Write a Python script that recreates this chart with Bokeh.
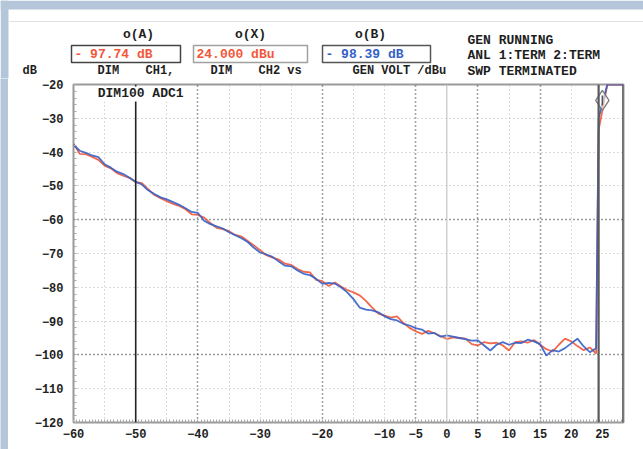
from bokeh.plotting import figure
from bokeh.layouts import column, row
from bokeh.models import Range1d, FixedTicker, Grid, Span, Label
from bokeh.core.properties import value
from bokeh.embed import file_html
from bokeh.resources import INLINE

# Generator sweep level (dBu) and the two measured channels (dB)
gen_level = list(range(-60, 25)) + [24.4, 25.8, 28.4]
ch1_db = [
    -37.5, -40.5, -40.6, -41.4, -42.3, -44.0, -44.8, -46.2, -47.0, -47.6,
    -48.9, -49.2, -51.0, -52.7, -53.6, -54.5, -55.3, -55.9, -56.9, -58.4,
    -58.6, -59.4, -61.0, -62.4, -62.8, -63.4, -64.5, -65.0, -66.3, -67.6,
    -69.0, -70.5, -71.2, -71.8, -73.0, -73.4, -74.6, -75.4, -75.6, -77.8,
    -78.2, -79.6, -78.6, -79.8, -80.8, -81.5, -82.4, -84.0, -86.0, -87.8,
    -88.4, -89.0, -88.6, -90.5, -92.0, -93.0, -93.8, -92.9, -93.6, -94.4,
    -95.3, -94.8, -95.0, -95.2, -96.8, -97.2, -96.2, -96.6, -96.4, -97.2,
    -98.7, -96.2, -96.0, -96.4, -95.6, -97.0, -98.3, -99.0, -97.0, -95.2,
    -96.0, -97.4, -98.6, -97.8, -99.6, -33.5, -20.0, -20.0,
]
ch2_db = [
    -37.8, -39.6, -40.2, -41.0, -41.5, -43.6, -44.6, -45.8, -46.5, -47.6,
    -48.8, -49.6, -51.3, -52.4, -53.4, -54.0, -54.8, -55.6, -56.6, -57.7,
    -58.0, -60.3, -61.3, -62.0, -62.6, -63.7, -64.6, -65.5, -66.6, -68.3,
    -69.7, -70.3, -71.0, -72.4, -73.6, -73.8, -75.0, -76.0, -76.4, -77.5,
    -79.0, -78.7, -78.9, -80.0, -81.5, -83.5, -86.0, -86.6, -86.8, -87.4,
    -88.6, -89.4, -89.8, -90.8, -91.3, -92.1, -92.5, -93.7, -93.5, -94.6,
    -94.2, -94.6, -95.0, -95.3, -95.8, -95.7, -97.2, -98.7, -97.0, -96.2,
    -97.0, -96.4, -96.5, -95.5, -96.0, -96.8, -100.2, -98.6, -99.0, -98.0,
    -96.6, -95.2, -97.5, -99.2, -98.0, -30.0, -20.0, -20.0,
]

x_ticks = [-60, -50, -40, -30, -20, -10, -5, 0, 5, 10, 15, 20, 25]
y_ticks = [-120, -110, -100, -90, -80, -70, -60, -50, -40, -30, -20]
x_grid_light = [-55, -45, -35, -30, -25, -15, -10, 10, 20]
x_grid_dark = [-40, -20, -5, 5, 15]
y_grid_light = [-110, -90, -80, -70, -50, -40, -30]
y_grid_dark = [-100, -60]

cursor_a = -50
cursor_b = 24.4
zero_line = 0
marker_pos = (25.0, -24.7)

readout_titles = ["o(A)", "o(X)", "o(B)"]
readout_values = ["- 97.74 dB", "24.000 dBu", "- 98.39 dB"]
readout_labels = ["DIM", "CH1,", "DIM", "CH2 vs", "GEN VOLT /dBu", "dB"]
status_lines = ["GEN RUNNING", "ANL 1:TERM 2:TERM", "SWP TERMINATED"]
chart_label = "DIM100 ADC1"

# page geometry (px)
W, H = 643, 449
HEAD_H = 78          # readout panel height
SIDE_W = 8           # window edge on the left
FOOT_H = 6           # strip under the chart
CHART_W = W - SIDE_W
CHART_H = H - HEAD_H - FOOT_H
BORDER_L, BORDER_R, BORDER_T, BORDER_B = 65, 20, 6, 21

X0, X1 = -60, 28.4
Y0, Y1 = -120, -20

RED = "#f2573a"
BLUE = "#3461c6"
INK = "#1e1e1e"
EDGE = "#b6c6da"
FOOT = "#fbeef0"
FONT = "Liberation Mono"

# ---------------- readout panel ----------------
head = figure(width=W, height=HEAD_H, output_backend="svg", toolbar_location=None,
              x_range=Range1d(0, W), y_range=Range1d(HEAD_H, 0),
              x_axis_type=None, y_axis_type=None, min_border=0)
head.outline_line_color = None
head.background_fill_color = "white"
head.border_fill_color = "white"
head.grid.visible = False

head.quad(left=[0, 0], right=[W, SIDE_W], top=[0, 0], bottom=[9, HEAD_H],
          fill_color=EDGE, line_color=None)
head.segment(x0=[9], y0=[21], x1=[W], y1=[21], line_color="#e0e0e0", line_width=1)

box_l = [71, 193, 322]
box_r = [180, 307, 430]
box_line = ["#444444", "#a0a0a0", "#555555"]
head.quad(left=box_l, right=box_r, top=[45] * 3, bottom=[62] * 3,
          fill_color="white", line_color=box_line, line_width=1.5)

text_kw = dict(text_font=value(FONT), text_font_style="bold", text_baseline="middle")
head.text(x=[138, 250, 370], y=[34] * 3, text=readout_titles, text_color=INK,
          text_align="center", text_font_size="13px", **text_kw)
head.text(x=[l + 3 for l in box_l], y=[54] * 3, text=readout_values,
          text_color=[RED, RED, BLUE], text_font_size="13px", **text_kw)
head.text(x=[97, 145, 210, 258, 352, 22], y=[70.5] * 6, text=readout_labels,
          text_color=INK, text_font_size="12px", **text_kw)
head.text(x=[467] * 3, y=[39.5, 55, 70.5], text=status_lines, text_color=INK,
          text_font_size="13px", **text_kw)

# ---------------- chart ----------------
p = figure(width=CHART_W, height=CHART_H, output_backend="svg",
           toolbar_location=None, x_range=Range1d(X0, X1), y_range=Range1d(Y0, Y1),
           min_border_left=BORDER_L, min_border_right=BORDER_R,
           min_border_top=BORDER_T, min_border_bottom=BORDER_B)
p.background_fill_color = "white"
p.border_fill_color = "white"
p.outline_line_color = "#9a9a9a"
p.outline_line_width = 2

for ax in (p.xaxis[0], p.yaxis[0]):
    ax.axis_line_color = None
    ax.major_tick_line_color = None
    ax.major_tick_in = 0
    ax.major_tick_out = 0
    ax.major_label_text_font = FONT
    ax.major_label_text_font_style = "bold"
    ax.major_label_text_font_size = "12px"
    ax.major_label_text_color = INK
    ax.minor_tick_line_color = "#a8a8a8"
    ax.minor_tick_in = 3
    ax.minor_tick_out = 0
p.xaxis.ticker = FixedTicker(ticks=x_ticks, minor_ticks=[v / 2 for v in range(-120, 57)])
p.yaxis.ticker = FixedTicker(ticks=y_ticks, minor_ticks=list(range(-120, -19, 2)))
p.xaxis.major_label_standoff = 6
p.yaxis.major_label_standoff = 10

# dotted grid
p.xgrid.visible = False
p.ygrid.visible = False
for dim, ticks, color, width in ((0, x_grid_light, "#b4b4b4", 1), (0, x_grid_dark, "#4a4a4a", 1.6),
                                 (1, y_grid_light, "#b4b4b4", 1), (1, y_grid_dark, "#3a3a3a", 1.6)):
    p.add_layout(Grid(dimension=dim, ticker=FixedTicker(ticks=ticks), grid_line_color=color,
                      grid_line_width=width, grid_line_dash="1 3"))

p.add_layout(Span(location=zero_line, dimension="height", line_color="#c4c4c4", line_width=1.2))
p.add_layout(Span(location=cursor_b, dimension="height", line_color="#5a5a5a", line_width=2.2))
p.add_layout(Span(location=cursor_a, dimension="height", line_color="#222222", line_width=1.6))
p.add_layout(Span(location=X1, dimension="height", line_color="#555555", line_width=2.5))

# traces
p.line(gen_level, ch1_db, line_color=RED, line_width=1.8, line_alpha=0.9)
p.line(gen_level, ch2_db, line_color=BLUE, line_width=1.8, line_alpha=0.9)
p.scatter([marker_pos[0]], [marker_pos[1]], marker="diamond", size=20,
          fill_color="white", fill_alpha=0.6, line_color="#7a7a7a", line_width=1.3)
p.scatter([marker_pos[0]], [marker_pos[1]], marker="dash", angle=1.5708, size=10,
          line_color="#555555", line_width=1.5)

p.add_layout(Label(x=-56.1, y=-22.8, text=chart_label, text_font=FONT, text_font_style="bold",
                   text_font_size="13px", text_color=INK, text_baseline="middle",
                   background_fill_color="white"))

# ---------------- window edges ----------------
def strip(w, h, color):
    s = figure(width=w, height=h, output_backend="svg", toolbar_location=None,
               x_axis_type=None, y_axis_type=None, min_border=0,
               x_range=Range1d(0, 1), y_range=Range1d(0, 1))
    s.outline_line_color = None
    s.grid.visible = False
    s.background_fill_color = color
    s.border_fill_color = color
    return s


side = strip(SIDE_W, H - HEAD_H, EDGE)
foot = strip(CHART_W, FOOT_H, FOOT)

layout = column(head, row(side, column(p, foot, spacing=0), spacing=0), spacing=0)

open("out.html", "w").write(file_html(layout, INLINE))
